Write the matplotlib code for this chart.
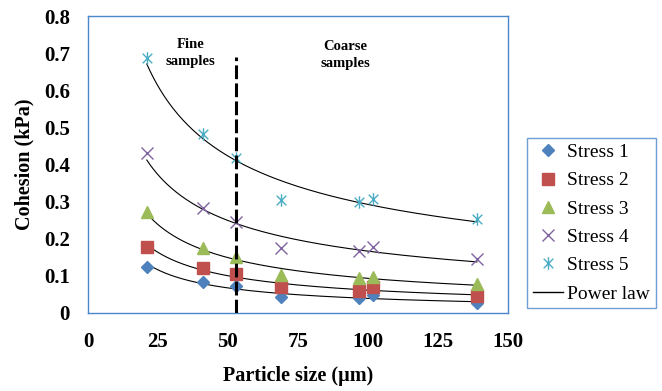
import numpy as np
import matplotlib
matplotlib.use("Agg")
import matplotlib.pyplot as plt
from matplotlib.path import Path

# Particle size (um) and cohesion (kPa)
particle_size = [21, 41, 53, 69, 97, 102, 139]
stress_1 = [0.123, 0.084, 0.074, 0.044, 0.040, 0.048, 0.026]
stress_2 = [0.177, 0.122, 0.105, 0.069, 0.060, 0.071, 0.046]
stress_3 = [0.273, 0.174, 0.150, 0.102, 0.093, 0.098, 0.078]
stress_4 = [0.430, 0.282, 0.244, 0.174, 0.167, 0.177, 0.145]
stress_5 = [0.686, 0.482, 0.417, 0.304, 0.300, 0.307, 0.252]
series_labels = ["Stress 1", "Stress 2", "Stress 3", "Stress 4", "Stress 5"]
fine_coarse_limit = 53
x_ticks = [0, 25, 50, 75, 100, 125, 150]
y_ticks = [0, 0.1, 0.2, 0.3, 0.4, 0.5, 0.6, 0.7, 0.8]

plt.rcParams["font.family"] = ["Liberation Serif", "DejaVu Serif"]

# marcador estrela do Excel (x + traço vertical)
star = Path(
    [(-1, -1), (1, 1), (-1, 1), (1, -1), (0, -1.3), (0, 1.3)],
    [Path.MOVETO, Path.LINETO, Path.MOVETO, Path.LINETO, Path.MOVETO, Path.LINETO],
)

estilos = [
    dict(marker="D", color="#4F81BD", ms=6.5),
    dict(marker="s", color="#C0504D", ms=8),
    dict(marker="^", color="#9BBB59", ms=9),
    dict(marker="x", color="#8064A2", ms=9, mew=1.0),
    dict(marker=star, color="#4BACC6", ms=9, mew=1.0),
]
dados = [stress_1, stress_2, stress_3, stress_4, stress_5]

fig = plt.figure(figsize=(6.62, 3.91), dpi=100)
ax = fig.add_axes([0.133, 0.1995, 0.634, 0.7595])

x = np.array(particle_size, dtype=float)
xf = np.linspace(x.min(), x.max(), 200)
for serie, est, nome in zip(dados, estilos, series_labels):
    ax.plot(x, serie, linestyle="none", label=nome, zorder=3, **est)
    # ajuste potência (linha de tendência)
    b, a = np.polyfit(np.log(x), np.log(serie), 1)
    ax.plot(xf, np.exp(a) * xf ** b, color="black", lw=0.8, zorder=2)

ax.plot([], [], color="black", lw=1.0, label="Power law")

ax.plot([fine_coarse_limit, fine_coarse_limit], [0, 0.69], color="black",
        lw=2.2, linestyle=(0, (4.5, 1.4)), zorder=4)

ax.text(36.5, 0.70, "Fine\nsamples", ha="center", va="center",
        fontsize=10.5, fontweight="bold", linespacing=1.35)
ax.text(92, 0.695, "Coarse\nsamples", ha="center", va="center",
        fontsize=10.5, fontweight="bold", linespacing=1.35)

ax.set_xlim(0, 150)
ax.set_ylim(0, 0.8)
ax.set_xticks(x_ticks)
ax.set_yticks(y_ticks)
ax.set_yticklabels(["0" if v == 0 else f"{v:g}" for v in y_ticks])
ax.tick_params(length=0, labelsize=15)
ax.tick_params(axis="x", pad=14)
ax.tick_params(axis="y", pad=13)
for lab in ax.get_xticklabels() + ax.get_yticklabels():
    lab.set_fontweight("bold")

ax.set_xlabel("Particle size (µm)", fontsize=14.5, fontweight="bold")
ax.set_ylabel("Cohesion (kPa)", fontsize=14.5, fontweight="bold")
ax.xaxis.set_label_coords(0.5, -0.18)
ax.yaxis.set_label_coords(-0.128, 0.5)

for sp in ax.spines.values():
    sp.set_color("#4A86C8")
    sp.set_linewidth(1.0)

handles, labels = ax.get_legend_handles_labels()
leg = fig.legend(handles, labels, loc="center",
                 bbox_to_anchor=(0.796, 0.2046, 0.195, 0.45),
                 fontsize=14, frameon=True, fancybox=False,
                 handlelength=1.55, handletextpad=0.2, labelspacing=0.55,
                 borderpad=0.3, borderaxespad=0)
leg.get_frame().set_edgecolor("#4A86C8")
leg.get_frame().set_linewidth(1.0)

plt.savefig("out.png", dpi=100)
